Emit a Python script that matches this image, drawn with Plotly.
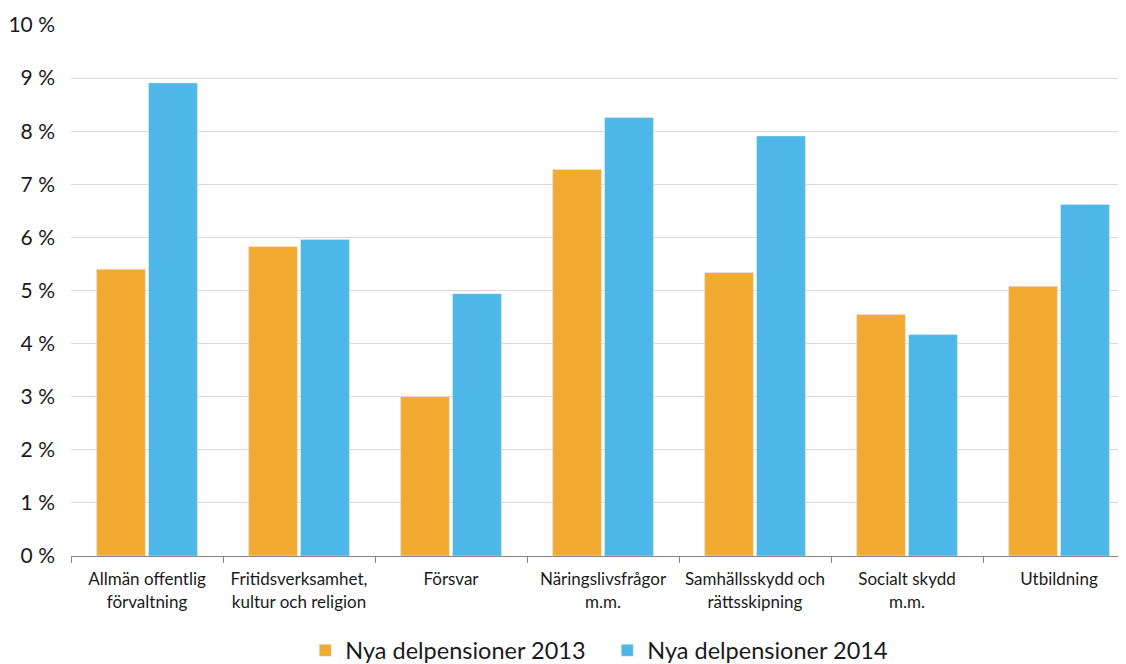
import plotly.graph_objects as go

categories = ["Allmän offentlig<br>förvaltning", "Fritidsverksamhet,<br>kultur och religion", "Försvar",
              "Näringslivsfrågor<br>m.m.", "Samhällsskydd och<br>rättsskipning", "Socialt skydd<br>m.m.", "Utbildning"]
values_2013 = [5.40, 5.83, 3.00, 7.28, 5.34, 4.55, 5.08]
values_2014 = [8.91, 5.96, 4.94, 8.26, 7.91, 4.17, 6.62]
y_ticks = list(range(0, 11))
y_ticklabels = [f"{v} %" for v in y_ticks]

fig = go.Figure()
fig.add_trace(go.Bar(x=categories, y=values_2013, name="Nya delpensioner 2013", marker_color="#F2AB31"))
fig.add_trace(go.Bar(x=categories, y=values_2014, name="Nya delpensioner 2014", marker_color="#4DB8E8"))

fig.update_layout(
    width=1128, height=664,
    margin=dict(l=63, r=1, t=17, b=116, autoexpand=False),
    paper_bgcolor="white", plot_bgcolor="white",
    font=dict(family="Lato", color="#1a1a1a"),
    barmode="group", bargap=0.316, bargroupgap=0.06,
    showlegend=True,
    legend=dict(orientation="h", x=0.504, xanchor="center", y=-0.178, yanchor="middle",
                font=dict(size=23.5), itemwidth=30, traceorder="normal", entrywidth=257),
)
fig.update_yaxes(range=[0, 10], tickvals=y_ticks, ticktext=y_ticklabels, automargin=False,
                 showgrid=True, gridcolor="#d9d9d9", gridwidth=1, zeroline=False,
                 tickfont=dict(size=21), ticks="", ticklabelstandoff=15)
fig.update_xaxes(tickson="boundaries", ticks="outside", ticklen=6, tickcolor="#888888", automargin=False,
                 showline=True, linecolor="#888888", linewidth=1,
                 tickfont=dict(size=17), tickangle=0, ticklabelstandoff=8)

fig.write_html("out.html")
